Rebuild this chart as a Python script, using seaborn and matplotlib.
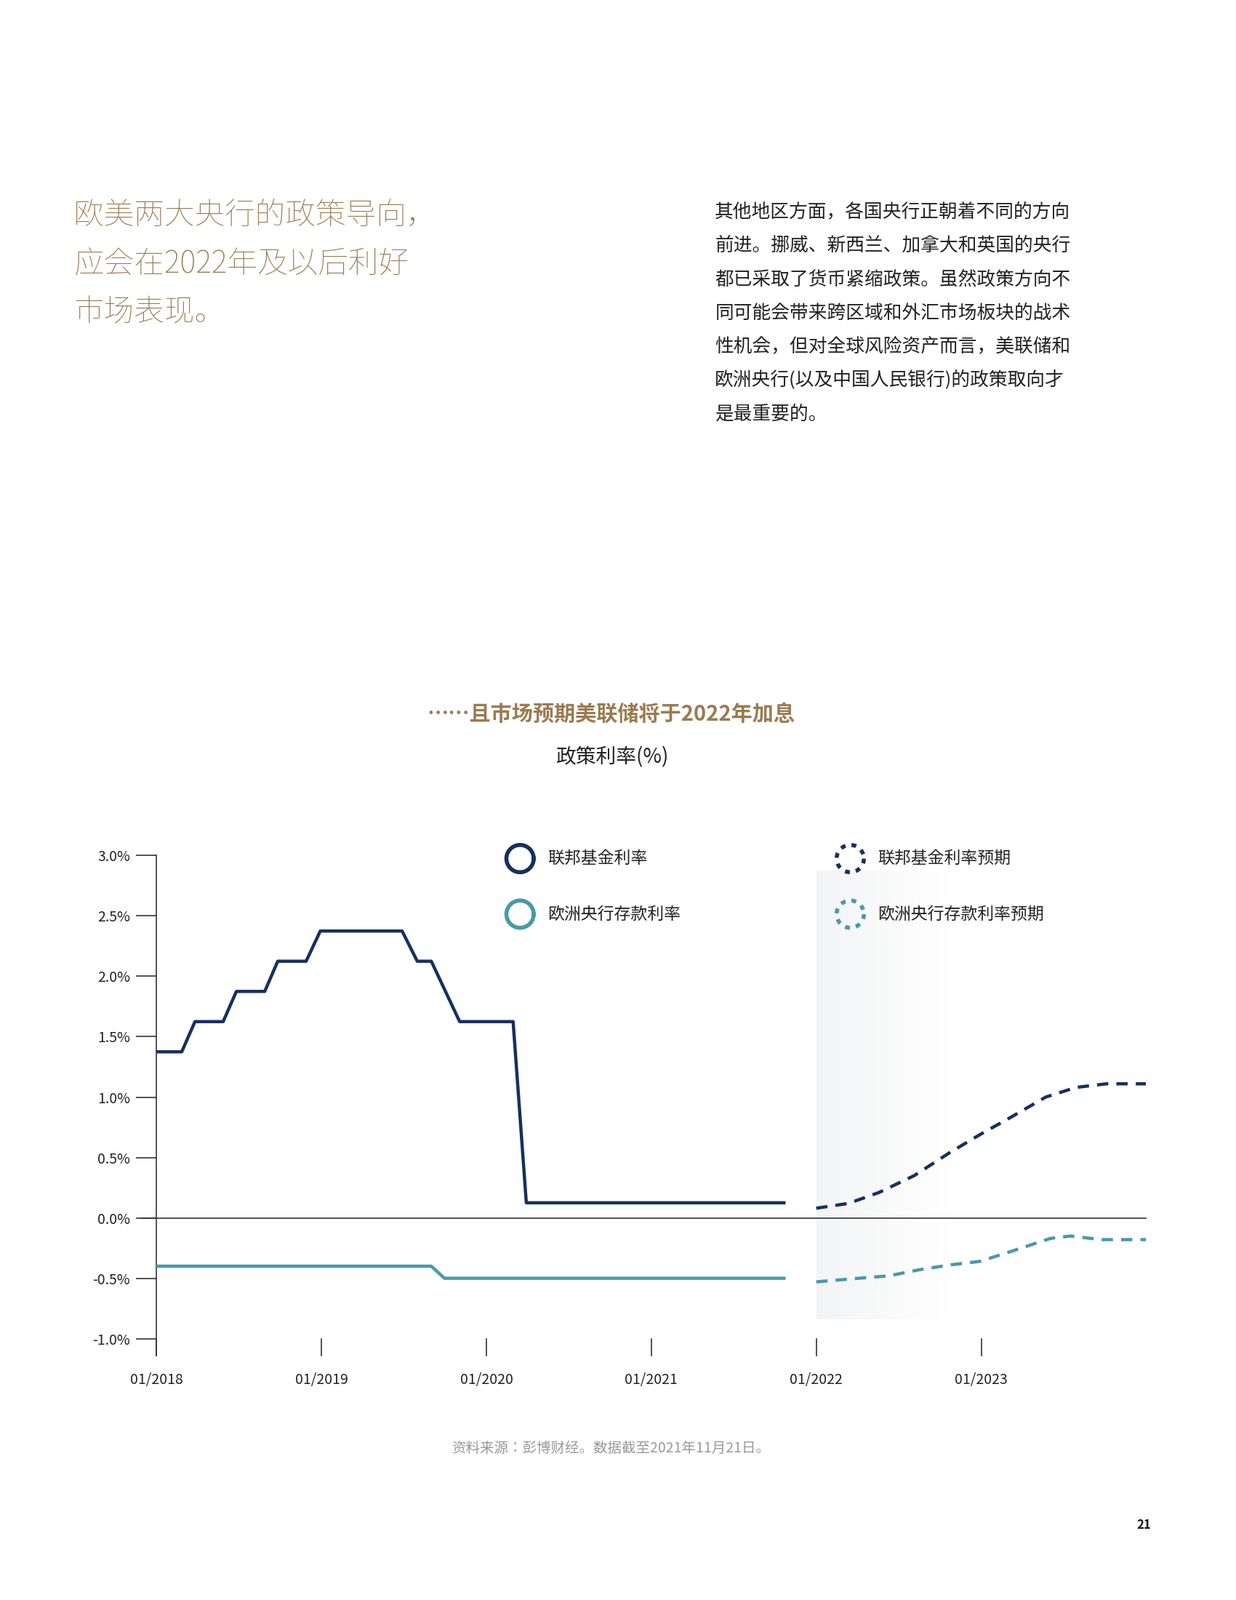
import matplotlib
matplotlib.use("Agg")
import matplotlib.pyplot as plt
from matplotlib import font_manager as fm
from matplotlib.lines import Line2D
from matplotlib.colors import LinearSegmentedColormap
import numpy as np
import seaborn as sns

# find a CJK font
cjk = None
for pref in ["Noto Sans CJK SC", "Noto Sans CJK JP", "Noto Sans CJK TC", "Noto Sans CJK KR"]:
    for f in fm.fontManager.ttflist:
        if f.name == pref:
            cjk = f.name
            break
    if cjk:
        break
if cjk is None:
    for f in fm.fontManager.ttflist:
        if "CJK" in f.name or "CJK" in f.fname:
            cjk = f.name
            break
if cjk is None:
    for f in fm.findSystemFonts():
        if "CJK" in f:
            fm.fontManager.addfont(f)
            cjk = fm.FontProperties(fname=f).get_name()
            break
plt.rcParams["font.family"] = [cjk or "DejaVu Sans", "DejaVu Sans"]
plt.rcParams["axes.unicode_minus"] = False

# ---- data (decimal years, %) ----
fed_x = [2018.0, 2018.153, 2018.233, 2018.404, 2018.484, 2018.656, 2018.735, 2018.907, 2018.993, 2019.489, 2019.581, 2019.666, 2019.838, 2020.162, 2020.242, 2021.804]
fed_y = [1.375, 1.375, 1.625, 1.625, 1.875, 1.875, 2.125, 2.125, 2.375, 2.375, 2.125, 2.125, 1.625, 1.625, 0.125, 0.125]
ecb_x = [2018.0, 2019.666, 2019.746, 2021.804]
ecb_y = [-0.4, -0.4, -0.5, -0.5]
fedf_x = [2022.0, 2022.196, 2022.38, 2022.594, 2022.809, 2022.993, 2023.176, 2023.391, 2023.574, 2023.758, 2024.0]
fedf_y = [0.08, 0.12, 0.21, 0.35, 0.54, 0.69, 0.83, 1.0, 1.08, 1.11, 1.11]
ecbf_x = [2022.0, 2022.257, 2022.44, 2022.623, 2022.809, 2022.993, 2023.176, 2023.42, 2023.543, 2023.727, 2024.0]
ecbf_y = [-0.53, -0.5, -0.48, -0.43, -0.39, -0.36, -0.28, -0.17, -0.15, -0.18, -0.18]
ytick_vals = [-1.0, -0.5, 0.0, 0.5, 1.0, 1.5, 2.0, 2.5, 3.0]
ytick_labels = ["-1.0%", "-0.5%", "0.0%", "0.5%", "1.0%", "1.5%", "2.0%", "2.5%", "3.0%"]
xtick_vals = [2018, 2019, 2020, 2021, 2022, 2023]
xtick_labels = ["01/2018", "01/2019", "01/2020", "01/2021", "01/2022", "01/2023"]

NAVY = "#16305f"
TEAL = "#4a98ab"
GOLD = "#9a7b52"

W, H = 1224, 1584
fig = plt.figure(figsize=(17, 22), dpi=100)
def fx(px): return px / W
def fy(py): return 1 - py / H

for i, line in enumerate(["欧美两大央行的政策导向，", "应会在2022年及以后利好", "市场表现。"]):
    fig.text(fx(73), fy(213 + i * 48), line, fontsize=30, color=GOLD, va="center", ha="left", fontweight="light")
para = ["其他地区方面，各国央行正朝着不同的方向", "前进。挪威、新西兰、加拿大和英国的央行",
        "都已采取了货币紧缩政策。虽然政策方向不", "同可能会带来跨区域和外汇市场板块的战术",
        "性机会，但对全球风险资产而言，美联储和", "欧洲央行(以及中国人民银行)的政策取向才", "是最重要的。"]
for i, line in enumerate(para):
    fig.text(fx(708), fy(210 + i * 33.3), line, fontsize=18.5, color="#222222", va="center", ha="left")

fig.text(fx(605), fy(707), "……且市场预期美联储将于2022年加息", fontsize=21, color=GOLD, fontweight="bold", ha="center", va="center")
fig.text(fx(606), fy(750), "政策利率(%)", fontsize=20, color="#222222", ha="center", va="center")
fig.text(fx(605), fy(1434), "资料来源：彭博财经。数据截至2021年11月21日。", fontsize=14, color="#999999", ha="center", va="center")
fig.text(fx(1133), fy(1510), "21", fontsize=12, color="#111111", fontweight="bold", ha="center", va="center")

ax = fig.add_axes([fx(155), fy(1342), fx(1135) - fx(155), fy(847) - fy(1342)])

grad = np.linspace(1, 0, 256).reshape(1, -1)
cm = LinearSegmentedColormap.from_list("g", ["#ffffff", "#f3f4f5"])
ax.imshow(np.vstack([grad, grad]), extent=[2022.0, 2022.81, -0.84, 2.875], aspect="auto", cmap=cm, vmin=0, vmax=1, zorder=0)
ax.set_xlim(2018, 2024)
ax.set_ylim(-1.14, 3.0)

ax.axhline(0, color="#333333", lw=1.2, zorder=1, xmin=-0.016, clip_on=False)
sns.lineplot(x=fed_x, y=fed_y, ax=ax, color=NAVY, lw=3.2, sort=False, zorder=3)
sns.lineplot(x=ecb_x, y=ecb_y, ax=ax, color=TEAL, lw=3.2, sort=False, zorder=3)
sns.lineplot(x=fedf_x, y=fedf_y, ax=ax, color=NAVY, lw=3.2, sort=False, zorder=3, linestyle=(0, (3.5, 2.5)))
sns.lineplot(x=ecbf_x, y=ecbf_y, ax=ax, color=TEAL, lw=3.2, sort=False, zorder=3, linestyle=(0, (3.5, 2.5)))

for s in ["top", "right", "bottom"]:
    ax.spines[s].set_visible(False)
ax.spines["left"].set_color("#333333")
ax.spines["left"].set_linewidth(1.2)
ax.set_yticks(ytick_vals)
ax.set_yticklabels(ytick_labels, fontsize=14, color="#222222")
ax.tick_params(axis="y", length=20, width=1.2, color="#333333", pad=6)
ax.set_xticks([])
for xv, lab in zip(xtick_vals, xtick_labels):
    ax.plot([xv, xv], [-1.0, -1.14], color="#333333", lw=1.2, clip_on=False)
    ax.text(xv, -1.34, lab, fontsize=14, color="#222222", ha="center", va="center")

leg = [(515, 850, NAVY, "-", "联邦基金利率"), (515, 905, TEAL, "-", "欧洲央行存款利率"),
       (842, 850, NAVY, ":", "联邦基金利率预期"), (842, 905, TEAL, ":", "欧洲央行存款利率预期")]
for px, py, c, ls, lab in leg:
    th = np.linspace(0, 2 * np.pi, 100)
    r = 13.5
    xs = [fx(px + r * np.cos(t)) for t in th]
    ys = [fy(py + r * np.sin(t)) for t in th]
    fig.add_artist(Line2D(xs, ys, transform=fig.transFigure, color=c, lw=4,
                          linestyle=ls if ls == "-" else (0, (1.2, 1.5))))
    fig.text(fx(px + 27), fy(py), lab, fontsize=16.5, color="#222222", ha="left", va="center")

fig.savefig("out.png", dpi=100, facecolor="white")
